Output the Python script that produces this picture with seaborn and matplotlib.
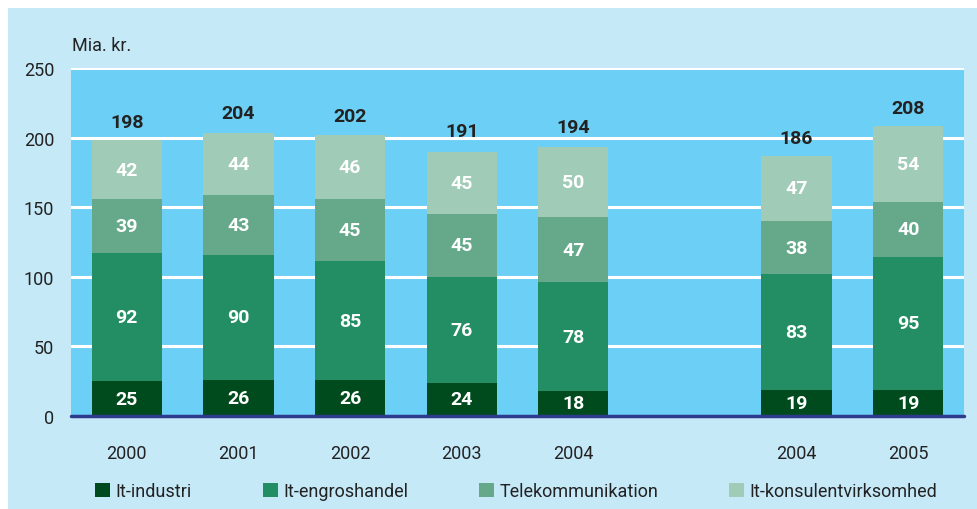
import matplotlib
matplotlib.use("Agg")
import matplotlib.pyplot as plt
from matplotlib.patches import Rectangle, Patch
import seaborn as sns
import numpy as np
import pandas as pd

years = ["2000", "2001", "2002", "2003", "2004", "2004", "2005"]
positions = [0, 1, 2, 3, 4, 6, 7]
it_industri = [25, 26, 26, 24, 18, 19, 19]
it_engros = [92, 90, 85, 76, 78, 83, 95]
telekom = [39, 43, 45, 45, 47, 38, 40]
konsulent = [42, 44, 46, 45, 50, 47, 54]
totals = [198, 204, 202, 191, 194, 186, 208]
series_names = ["It-industri", "It-engroshandel", "Telekommunikation", "It-konsulentvirksomhed"]
colors = ["#004b1d", "#238e63", "#66a98a", "#a0cbb6"]

sns.set_theme(style="white")
plt.rcParams['font.family'] = ['Roboto', 'DejaVu Sans']

W, H = 978, 510
fig = plt.figure(figsize=(W / 100, H / 100), dpi=100, facecolor="white")
fig.patches.append(Rectangle((8 / W, 0), 1 - 8 / W, 1 - 9 / H, transform=fig.transFigure,
                             facecolor="#c6e9f8", edgecolor="none", zorder=-10))
ax = fig.add_axes([71 / W, 1 - 417 / H, (964 - 71) / W, (417 - 69) / H])
ax.set_facecolor("#6ccff5")

series = [it_industri, it_engros, telekom, konsulent]
cum = np.cumsum(np.array(series), axis=0)
df = pd.DataFrame({"pos": positions})
for i in range(4):
    df[f"c{i}"] = cum[i]

for i in range(3, -1, -1):
    sns.barplot(data=df, x="pos", y=f"c{i}", native_scale=True, width=0.63,
                color=colors[i], saturation=1, ax=ax, zorder=3, linewidth=0)

bottoms = np.vstack([np.zeros(len(positions)), cum[:-1]])
for j, p in enumerate(positions):
    for i in range(4):
        v = series[i][j]
        ax.text(p, bottoms[i][j] + v / 2, str(v), ha="center", va="center",
                color="white", fontsize=14, fontweight="bold", zorder=5)
    ax.text(p, totals[j] + 13.5, str(totals[j]), ha="center", va="center",
            color="#222222", fontsize=14, fontweight="bold", zorder=5)

ax.set_xlim(-0.5, 7.5)
ax.set_ylim(0, 250)
ax.set_yticks([0, 50, 100, 150, 200, 250])
ax.set_xticks(positions)
ax.set_xticklabels(years)
for y in [50, 100, 150, 200, 250]:
    ax.axhline(y, color="white", lw=2.2, zorder=1)
ax.axhline(0, color="#2e3a8c", lw=2.5, zorder=6, clip_on=False)
for s in ax.spines.values():
    s.set_visible(False)
ax.tick_params(axis="both", length=0, labelsize=13, colors="#222222")
ax.tick_params(axis="y", pad=12)
ax.tick_params(axis="x", pad=20)
ax.set_xlabel("")
ax.set_ylabel("")
fig.text(72 / W, 1 - 46 / H, "Mia. kr.", fontsize=13, color="#222222", va="center", ha="left")

legend_x = [95, 263, 479, 729]
fs = 13
fs_px = fs * 100 / 72
for name, c, lx in zip(series_names, colors, legend_x):
    leg = fig.legend([Patch(facecolor=c, edgecolor="none")], [name], loc="center left",
                     bbox_to_anchor=(lx / W, 1 - 492 / H), frameon=False, fontsize=fs,
                     handlelength=15 / fs_px, handleheight=15 / fs_px, handletextpad=0.3,
                     borderpad=0, borderaxespad=0, labelcolor="#222222")

fig.savefig("out.png", dpi=100, facecolor=fig.get_facecolor())
